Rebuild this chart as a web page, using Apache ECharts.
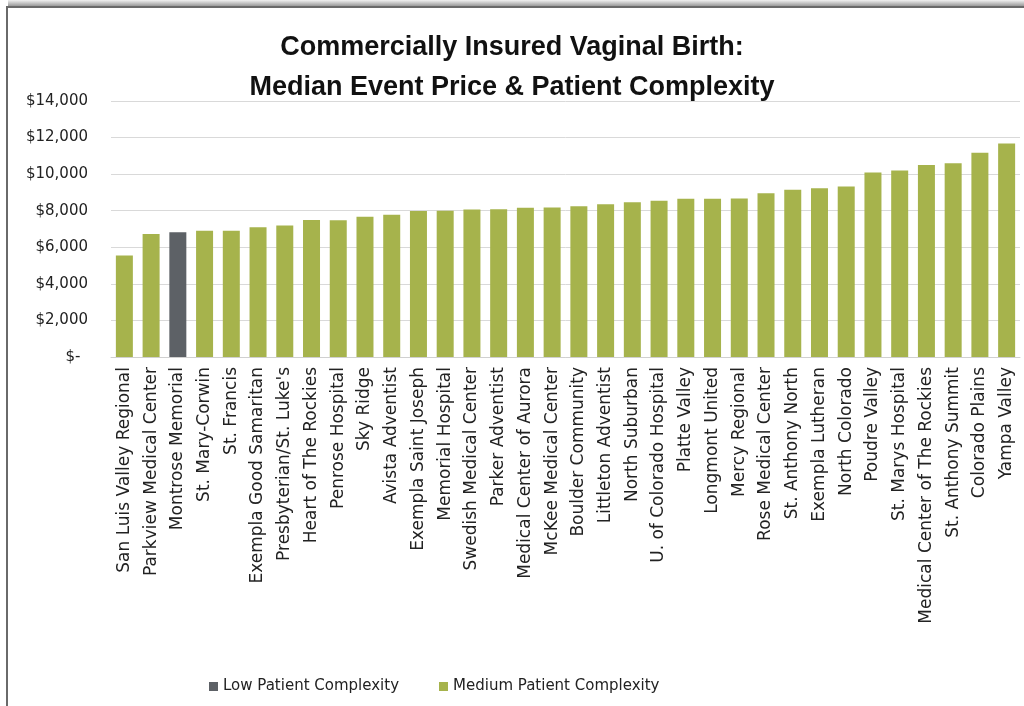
<!DOCTYPE html>
<html>
<head>
<meta charset="utf-8">
<script src="https://cdn.jsdelivr.net/npm/echarts@6/dist/echarts.min.js"></script>
<style>html,body{margin:0;padding:0;background:#fff}#c{width:1024px;height:706px}</style>
</head>
<body>
<div id="c"></div>
<script>
const titleLines = ['Commercially Insured Vaginal Birth:', 'Median Event Price & Patient Complexity'];
const categories = [
  'San Luis Valley Regional', 'Parkview Medical Center', 'Montrose Memorial', 'St. Mary-Corwin',
  'St. Francis', 'Exempla Good Samaritan', "Presbyterian/St. Luke's", 'Heart of The Rockies',
  'Penrose Hospital', 'Sky Ridge', 'Avista Adventist', 'Exempla Saint Joseph', 'Memorial Hospital',
  'Swedish Medical Center', 'Parker Adventist', 'Medical Center of Aurora', 'McKee Medical Center',
  'Boulder Community', 'Littleton Adventist', 'North Suburban', 'U. of Colorado Hospital',
  'Platte Valley', 'Longmont United', 'Mercy Regional', 'Rose Medical Center', 'St. Anthony North',
  'Exempla Lutheran', 'North Colorado', 'Poudre Valley', 'St. Marys Hospital',
  'Medical Center of The Rockies', 'St. Anthony Summit', 'Colorado Plains', 'Yampa Valley'
];
const prices = [
  5550, 6730, 6820, 6900, 6900, 7100, 7190, 7490, 7480, 7670, 7780, 7990, 8000, 8070, 8080, 8160, 8170,
  8250, 8360, 8460, 8550, 8660, 8660, 8670, 8950, 9140, 9230, 9320, 10090, 10200, 10500, 10600, 11170, 11670
];
const complexity = categories.map(c => c === 'Montrose Memorial' ? 'Low' : 'Medium');
const seriesNames = ['Low Patient Complexity', 'Medium Patient Complexity'];
const seriesKeys = ['Low', 'Medium'];
const seriesColors = ['#5d6166', '#a6b34c'];
const yTicks = { min: 0, max: 14000, interval: 2000 };

const chart = echarts.init(document.getElementById('c'), null, { renderer: 'canvas' });
const FONT = 'DejaVu Sans';
chart.setOption({
  animation: false,
  backgroundColor: '#ffffff',
  title: {
    text: titleLines.join('\n'),
    left: 'center',
    top: 23,
    textStyle: { fontFamily: 'Liberation Sans, sans-serif', fontWeight: 'bold', fontSize: 27, lineHeight: 40, color: '#111' }
  },
  legend: {
    data: seriesNames,
    left: 204,
    top: 674,
    itemWidth: 9,
    itemHeight: 9,
    itemGap: 40,
    icon: 'rect',
    textStyle: { fontFamily: FONT, fontSize: 15, color: '#222' }
  },
  grid: { left: 111, right: 4, top: 101, bottom: 349, containLabel: false },
  xAxis: {
    type: 'category',
    data: categories,
    axisLine: { lineStyle: { color: '#d0d0d0' } },
    axisTick: { show: false },
    axisLabel: { rotate: 90, interval: 0, margin: 10, fontFamily: FONT, fontSize: 17, color: '#222' }
  },
  yAxis: {
    type: 'value',
    min: yTicks.min, max: yTicks.max, interval: yTicks.interval,
    axisLine: { show: false },
    axisTick: { show: false },
    splitLine: { lineStyle: { color: '#d9d9d9' } },
    axisLabel: {
      margin: 23, fontFamily: FONT, fontSize: 15, color: '#222',
      formatter: v => v === 0 ? '$-\u2002' : '$' + v.toLocaleString('en-US')
    }
  },
  series: seriesKeys.map((k, i) => ({
    name: seriesNames[i],
    type: 'bar',
    stack: 'p',
    barWidth: 17,
    itemStyle: { color: seriesColors[i] },
    data: prices.map((p, j) => complexity[j] === k ? p : null)
  })),
  graphic: [
    { type: 'rect', silent: true, shape: { x: 8, y: 0, width: 1024, height: 7 },
      style: { fill: new echarts.graphic.LinearGradient(0, 0, 0, 1, [{ offset: 0, color: '#f2f2f2' }, { offset: 1, color: '#8c8c8c' }]) } },
    { type: 'rect', silent: true, shape: { x: 7, y: 7, width: 1030, height: 720 },
      style: { fill: 'none', stroke: '#6a6a6a', lineWidth: 2 } }
  ]
});
</script>
</body>
</html>
